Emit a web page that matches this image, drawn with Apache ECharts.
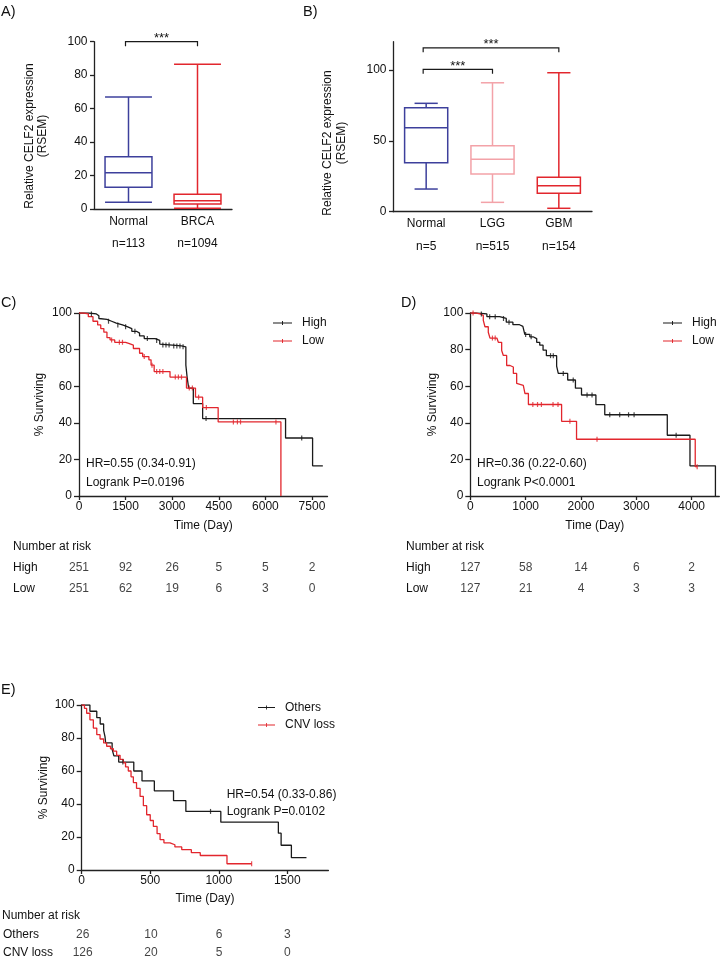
<!DOCTYPE html>
<html><head><meta charset="utf-8">
<script src="https://cdn.jsdelivr.net/npm/echarts@6/dist/echarts.min.js"></script>
<style>html,body{margin:0;padding:0;background:#fff}#c{width:721px;height:961px}</style>
</head><body><div id="c"></div>
<script>
const FONT = "'Liberation Sans', Arial, Helvetica, sans-serif";

// ---------- Panel A ----------
const boxACategories = ['Normal', 'BRCA'];
const boxACounts = ['n=113', 'n=1094'];
// [min, Q1, median, Q3, max]
const boxAStats = [[4, 13, 21.7, 31.3, 67], [0.4, 3, 5, 8.8, 86.5]];
const boxABrackets = [[0, 1, 100]];

// ---------- Panel B ----------
const boxBCategories = ['Normal', 'LGG', 'GBM'];
const boxBCounts = ['n=5', 'n=515', 'n=154'];
const boxBStats = [[16, 34.6, 59.3, 73.4, 76.5], [6.6, 26.6, 37, 46.6, 91], [2.4, 13, 18.4, 24.3, 98.1]];
const boxBYTicks = [0, 50, 100];
const boxBBrackets = [[0, 1, 100.5], [0, 2, 115.7]];

// ---------- Panel C ----------
const kmCTicks = [0, 1500, 3000, 4500, 6000, 7500];
const kmCHigh = [[0,100],[300,99.5],[560,98.5],[640,97],[700,96.5],[900,95.5],[1050,94.5],[1200,93.5],[1400,92.5],[1550,91.5],[1700,90],[1850,89],[1950,87.5],[2100,86],[2450,85],[2600,83],[2650,82.5],[3000,82],[3300,81.5],[3440,71.5],[3480,65],[3530,59],[3680,50.5],[3980,42.3],[6650,31.7],[7520,16.5],[7850,16.5]];
const kmCLow = [[0,100],[150,99.5],[300,98],[450,95.5],[600,93.5],[700,91.5],[800,89.5],[900,86.5],[1000,85.3],[1150,84],[1500,83.4],[1600,82.5],[1750,80.6],[1950,78],[2050,76.2],[2250,74.4],[2320,71.5],[2420,68],[2930,65],[3460,59],[3750,54],[3980,48.3],[4480,40.5],[6500,0]];
const kmCHighCensor = [[400,99.5],[950,95.5],[1250,93.5],[1500,92.5],[1800,90],[2200,86],[2500,85],[2700,82.5],[2800,82.5],[2900,82.5],[3050,82],[3150,82],[3250,82],[3350,81.5],[4090,42.3],[7170,31.7]];
const kmCLowCensor = [[1050,85.3],[1300,84],[1400,84],[2100,76.2],[2350,71.5],[2500,68],[2600,68],[2700,68],[3100,65],[3200,65],[3300,65],[3550,59],[3650,59],[3850,54],[4100,48.3],[4970,40.5],[5100,40.5],[5200,40.5],[6340,40.5]];
const riskCHigh = [251, 92, 26, 5, 5, 2];
const riskCLow = [251, 62, 19, 6, 3, 0];

// ---------- Panel D ----------
const kmDTicks = [0, 1000, 2000, 3000, 4000];
const kmDHigh = [[0,100],[100,99.5],[300,98],[530,97],[650,95],[770,93.6],[890,92.7],[950,91.8],[985,88.3],[1075,87],[1135,86],[1200,84],[1255,82.4],[1315,79.7],[1375,76.7],[1560,71],[1590,67],[1760,63.4],[1900,58.9],[2010,55.2],[2270,49.9],[2430,44.4],[3560,33.2],[3970,16.5],[4430,0]];
const kmDLow = [[0,100],[100,99.5],[175,98.7],[235,96],[265,92.5],[325,89.5],[356,86.3],[480,86],[507,84],[567,79.5],[597,76.8],[657,71.3],[718,70.5],[778,67],[838,61.5],[868,60.5],[958,59.5],[988,56],[1050,50],[1650,40.8],[1920,31],[4065,16],[4100,16]];
const kmDHighCensor = [[200,99.5],[350,98],[450,98],[600,97],[700,95],[1000,88.3],[1100,87],[1450,76.7],[1500,76.7],[1680,67],[1860,63.4],[2110,55.2],[2200,55.2],[2520,44.4],[2700,44.4],[2860,44.4],[2960,44.4],[3720,33.2]];
const kmDLowCensor = [[50,100],[400,86.3],[450,86.3],[1130,50],[1215,50],[1285,50],[1495,50],[1585,50],[1800,40.8],[2290,31],[4100,16]];
const riskDHigh = [127, 58, 14, 6, 2];
const riskDLow = [127, 21, 4, 3, 3];

// ---------- Panel E ----------
const kmETicks = [0, 500, 1000, 1500];
const kmEOthers = [[0,100],[60,96.2],[110,92.3],[135,88.5],[160,84.6],[170,80.8],[175,77],[222,73.1],[235,69.2],[270,65.4],[380,60],[440,54],[530,48],[670,42],[760,35.5],[1015,29],[1435,22.3],[1455,15],[1530,7.5],[1640,7.5]];
const kmECnv = [[0,100],[20,98],[36,95],[60,91],[85,86],[110,82],[134,79.4],[160,77],[182,75],[210,73.5],[231,72],[255,69.5],[280,67],[304,65],[320,62.5],[340,60],[360,56.5],[377,53],[400,49.5],[426,44.6],[450,39],[474,33.5],[500,30],[523,26.4],[550,22],[572,18.4],[600,16.5],[644,15.3],[680,14],[730,12.3],[800,10.5],[865,8.8],[1060,3.8],[1240,3.8]];
const kmEOthersCensor = [[300,65.4],[940,35.5]];
const kmECnvCensor = [[1240,3.8]];
const riskEOthers = [26, 10, 6, 3];
const riskECnv = [126, 20, 5, 0];

// ---------- styles ----------
const BLUE = '#3d409c', PINK = '#f3a2a8', RED = '#e2262d', BLACK = '#1a1a1a';
const boxAColors = [BLUE, RED];
const boxBColors = [BLUE, PINK, RED];
const AX = '#222';
const ICON = 'path://M0,1.5h20v1h-20z M9.5,0h1v4h-1z';

function boxRender(colors, boxRatio, capRatio) {
  return function (params, api) {
    const c = api.value(0);
    const pMin = api.coord([c, api.value(1)]);
    const pQ1 = api.coord([c, api.value(2)]);
    const pMed = api.coord([c, api.value(3)]);
    const pQ3 = api.coord([c, api.value(4)]);
    const pMax = api.coord([c, api.value(5)]);
    const band = api.size([1, 0])[0];
    const bw = band * boxRatio, cw = band * capRatio;
    const x = pMed[0];
    const col = colors[params.dataIndex];
    const st = () => ({ stroke: col, lineWidth: 1.5, fill: null });
    const L = (x1, y1, x2, y2) => ({ type: 'line', shape: { x1, y1, x2, y2 }, style: st() });
    return { type: 'group', children: [
      { type: 'rect', shape: { x: x - bw / 2, y: pQ3[1], width: bw, height: pQ1[1] - pQ3[1] }, style: st() },
      L(x - bw / 2, pMed[1], x + bw / 2, pMed[1]),
      L(x, pQ3[1], x, pMax[1]),
      L(x, pQ1[1], x, pMin[1]),
      L(x - cw / 2, pMax[1], x + cw / 2, pMax[1]),
      L(x - cw / 2, pMin[1], x + cw / 2, pMin[1])
    ]};
  };
}
function bracketRender(params, api) {
  const a = api.coord([api.value(0), api.value(2)]);
  const b = api.coord([api.value(1), api.value(2)]);
  const d = 4.5;
  return { type: 'group', children: [
    { type: 'polyline', shape: { points: [[a[0] - 3, a[1] + d], [a[0] - 3, a[1]], [b[0], b[1]], [b[0], b[1] + d]] },
      style: { stroke: BLACK, lineWidth: 1.2, fill: null } },
    { type: 'text', x: (a[0] - 3 + b[0]) / 2, y: a[1] - 3,
      style: { text: '***', align: 'center', verticalAlign: 'middle', fontSize: 13, fontFamily: FONT, fill: '#111' } }
  ]};
}

const axisLine = { show: true, lineStyle: { color: AX, width: 1.3 } };
const axisTick = { show: true, length: 4, lineStyle: { color: AX, width: 1.3 } };
const lbl = (extra) => Object.assign({ color: '#111', fontSize: 12, fontFamily: FONT }, extra || {});

function catAxis(gi, cats, counts) {
  return { type: 'category', gridIndex: gi, data: cats, axisLine, axisTick: { show: false },
    axisLabel: { margin: 1, interval: 0, formatter: (v, i) => '{a|' + v + '}\n{b|' + counts[i] + '}',
      rich: { a: lbl({ lineHeight: 22.5 }), b: lbl({ lineHeight: 22.5 }) } } };
}
function kmX(gi, max, ticks) {
  return { type: 'value', gridIndex: gi, min: 0, max, axisLine, axisTick: Object.assign({}, axisTick, { customValues: ticks }),
    splitLine: { show: false }, axisLabel: lbl({ margin: 5, customValues: ticks, formatter: v => String(v) }),
    name: 'Time (Day)', nameLocation: 'middle', nameGap: 24, nameTextStyle: lbl() };
}
function kmY(gi, gap) {
  return { type: 'value', gridIndex: gi, min: 0, max: 100, interval: 20, axisLine,
    axisTick: Object.assign({}, axisTick, { length: 5 }), splitLine: { show: false }, axisLabel: lbl({ margin: 7 }),
    name: '% Surviving', nameLocation: 'middle', nameGap: gap, nameTextStyle: lbl() };
}
function riskX(gi, max) { return { type: 'value', gridIndex: gi, min: 0, max, show: false }; }
function riskY(gi, rows, margin) {
  return { type: 'category', gridIndex: gi, data: rows, inverse: true, axisLine: { show: false }, axisTick: { show: false },
    axisLabel: lbl({ align: 'left', margin, interval: 0 }) };
}
function kmLine(name, gi, data, color) {
  return { type: 'line', name, xAxisIndex: gi, yAxisIndex: gi, data, step: 'end', symbol: 'none', color,
    lineStyle: { color, width: 1.3 }, z: 3 };
}
function censor(name, gi, data, color) {
  return { type: 'scatter', name, xAxisIndex: gi, yAxisIndex: gi, data, symbol: 'rect', symbolSize: [1.2, 5],
    itemStyle: { color }, z: 4 };
}
function riskSeries(gi, times, row, values) {
  return { type: 'scatter', xAxisIndex: gi, yAxisIndex: gi, symbolSize: 1, itemStyle: { color: 'rgba(0,0,0,0)' },
    data: times.map((t, i) => [t, row, values[i]]),
    label: lbl({ show: true, position: 'inside', formatter: p => String(p.value[2]) }) };
}
function txt(x, y, text, extra) {
  return { type: 'text', x, y, style: Object.assign({ text, fontSize: 12, fontFamily: FONT, fill: '#111', align: 'left', verticalAlign: 'middle' }, extra || {}) };
}
function legend(left, top, names, w, gap) {
  return { left, top, orient: 'vertical', data: names, icon: ICON, itemWidth: w, itemHeight: 4, itemGap: gap,
    symbolKeepAspect: false, selectedMode: false, textStyle: lbl({ lineHeight: 14, padding: [0, 0, 0, 5] }) };
}

const option = {
  animation: false,
  backgroundColor: '#fff',
  grid: [
    { left: 94, top: 41.7, width: 138, height: 167.3 },
    { left: 393, top: 41.7, width: 199, height: 170 },
    { left: 79, top: 313, width: 248.5, height: 183 },
    { left: 470.3, top: 313, width: 249, height: 183 },
    { left: 81.7, top: 705, width: 246.7, height: 165 },
    { left: 79, top: 557.5, width: 248.5, height: 42 },
    { left: 470.3, top: 557.5, width: 249, height: 42 },
    { left: 81.7, top: 926.5, width: 246.7, height: 38 }
  ],
  xAxis: [
    catAxis(0, boxACategories, boxACounts),
    catAxis(1, boxBCategories, boxBCounts),
    kmX(2, 8000, kmCTicks),
    kmX(3, 4500, kmDTicks),
    Object.assign(kmX(4, 1800, kmETicks), { nameGap: 23 }),
    riskX(5, 8000), riskX(6, 4500), riskX(7, 1800)
  ],
  yAxis: [
    { type: 'value', gridIndex: 0, min: 0, max: 100, interval: 20, axisLine, axisTick, splitLine: { show: false }, axisLabel: lbl({ margin: 6.5 }) },
    { type: 'value', gridIndex: 1, min: 0, max: 120, axisLine, splitLine: { show: false },
      axisTick: Object.assign({}, axisTick, { customValues: boxBYTicks }), axisLabel: lbl({ margin: 6.5, customValues: boxBYTicks }) },
    kmY(2, 33), kmY(3, 32), kmY(4, 32),
    riskY(5, ['High', 'Low'], 66), riskY(6, ['High', 'Low'], 64.3), riskY(7, ['Others', 'CNV loss'], 79.7)
  ],
  legend: [
    legend(268, 311, ['High', 'Low'], 19, 4),
    legend(658, 311, ['High', 'Low'], 19, 4),
    legend(253, 695.5, ['Others', 'CNV loss'], 17, 3.5)
  ],
  series: [
    { type: 'custom', xAxisIndex: 0, yAxisIndex: 0, renderItem: boxRender(boxAColors, 0.68, 0.68),
      encode: { x: 0, y: [1, 2, 3, 4, 5] }, data: boxAStats.map((s, i) => [i].concat(s)) },
    { type: 'custom', xAxisIndex: 0, yAxisIndex: 0, renderItem: bracketRender, encode: { x: [0, 1], y: 2 }, data: boxABrackets },
    { type: 'custom', xAxisIndex: 1, yAxisIndex: 1, renderItem: boxRender(boxBColors, 0.65, 0.35),
      encode: { x: 0, y: [1, 2, 3, 4, 5] }, data: boxBStats.map((s, i) => [i].concat(s)) },
    { type: 'custom', xAxisIndex: 1, yAxisIndex: 1, renderItem: bracketRender, encode: { x: [0, 1], y: 2 }, data: boxBBrackets },

    kmLine('High', 2, kmCHigh, BLACK), kmLine('Low', 2, kmCLow, RED),
    censor('High c', 2, kmCHighCensor, BLACK), censor('Low c', 2, kmCLowCensor, RED),
    kmLine('High', 3, kmDHigh, BLACK), kmLine('Low', 3, kmDLow, RED),
    censor('High c', 3, kmDHighCensor, BLACK), censor('Low c', 3, kmDLowCensor, RED),
    kmLine('Others', 4, kmEOthers, BLACK), kmLine('CNV loss', 4, kmECnv, RED),
    censor('Others c', 4, kmEOthersCensor, BLACK), censor('CNV c', 4, kmECnvCensor, RED),

    riskSeries(5, kmCTicks, 'High', riskCHigh), riskSeries(5, kmCTicks, 'Low', riskCLow),
    riskSeries(6, kmDTicks, 'High', riskDHigh), riskSeries(6, kmDTicks, 'Low', riskDLow),
    riskSeries(7, kmETicks, 'Others', riskEOthers), riskSeries(7, kmETicks, 'CNV loss', riskECnv)
  ],
  graphic: [
    txt(1, 12, 'A)', { fontSize: 14.5 }),
    txt(303, 12, 'B)', { fontSize: 14.5 }),
    txt(1, 303, 'C)', { fontSize: 14.5 }),
    txt(401, 303, 'D)', { fontSize: 14.5 }),
    txt(1, 690, 'E)', { fontSize: 14.5 }),
    { type: 'text', x: 36, y: 136, rotation: Math.PI / 2,
      style: { text: 'Relative CELF2 expression\n(RSEM)', fontSize: 12, fontFamily: FONT, fill: '#111', align: 'center', verticalAlign: 'middle', lineHeight: 13.5 } },
    { type: 'text', x: 335, y: 143, rotation: Math.PI / 2,
      style: { text: 'Relative CELF2 expression\n(RSEM)', fontSize: 12, fontFamily: FONT, fill: '#111', align: 'center', verticalAlign: 'middle', lineHeight: 14 } },
    txt(86, 464, 'HR=0.55 (0.34-0.91)'),
    txt(86, 483, 'Logrank P=0.0196'),
    txt(477, 464, 'HR=0.36 (0.22-0.60)'),
    txt(477, 483, 'Logrank P<0.0001'),
    txt(226.7, 795, 'HR=0.54 (0.33-0.86)'),
    txt(226.7, 812, 'Logrank P=0.0102'),
    txt(13, 547, 'Number at risk'),
    txt(406, 547, 'Number at risk'),
    txt(2, 916, 'Number at risk')
  ]
};
const chart = echarts.init(document.getElementById('c'), null, { renderer: 'canvas' });
chart.setOption(option);
</script></body></html>
